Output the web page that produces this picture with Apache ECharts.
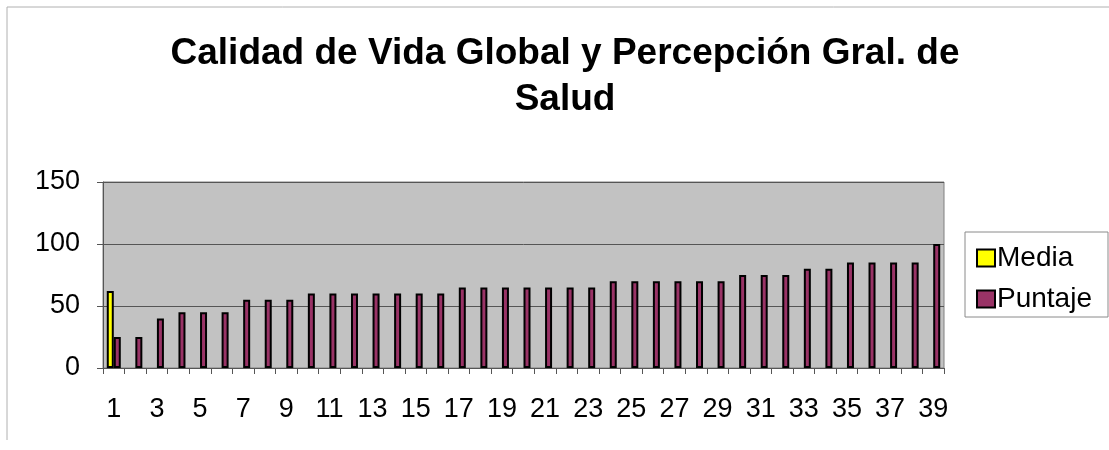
<!DOCTYPE html>
<html>
<head>
<meta charset="utf-8">
<script src="https://cdn.jsdelivr.net/npm/echarts@6/dist/echarts.min.js"></script>
<style>
  html, body { margin: 0; padding: 0; background: #fff; }
  #chart { width: 1109px; height: 450px; }
</style>
</head>
<body>
<div id="chart"></div>
<script>
const categories = []
for (let i = 1; i <= 39; i++) categories.push(String(i))

const media = [62, null, null, null, null, null, null, null, null, null,
  null, null, null, null, null, null, null, null, null, null,
  null, null, null, null, null, null, null, null, null, null,
  null, null, null, null, null, null, null, null, null]

const puntaje = [25, 25, 40, 45, 45, 45, 55, 55, 55, 60,
  60, 60, 60, 60, 60, 60, 65, 65, 65, 65,
  65, 65, 65, 70, 70, 70, 70, 70, 70, 75,
  75, 75, 80, 80, 85, 85, 85, 85, 100]

const yTicks = [0, 50, 100, 150]

const chart = echarts.init(document.getElementById('chart'))
const font = '"Liberation Sans", Arial, sans-serif'

const option = {
  animation: false,
  backgroundColor: '#ffffff',
  title: {
    text: 'Calidad de Vida Global y Percepción Gral. de\nSalud',
    left: 560,
    textAlign: 'center',
    top: 26,
    textStyle: {
      fontFamily: font,
      fontSize: 37,
      fontWeight: 'bold',
      color: '#000',
      lineHeight: 46
    }
  },
  graphic: [
    {
      type: 'polyline',
      shape: { points: [[7, 440], [7, 7], [1109, 7]] },
      style: { stroke: '#b0b0b0', lineWidth: 1, fill: null },
      silent: true
    },
    {
      type: 'rect',
      shape: { x: 965, y: 232, width: 143, height: 85 },
      style: { stroke: '#8a8a8a', lineWidth: 1, fill: '#fff' },
      z: -1,
      silent: true
    }
  ],
  legend: {
    orient: 'vertical',
    left: 971,
    top: 239,
    itemWidth: 18,
    itemHeight: 17,
    itemGap: 13,
    icon: 'rect',
    textStyle: { fontFamily: font, fontSize: 28, color: '#000', padding: [0, 0, 0, -3] },
    data: ['Media', 'Puntaje']
  },
  grid: {
    left: 103,
    top: 182,
    width: 841,
    height: 186,
    show: true,
    backgroundColor: '#c2c2c2',
    borderColor: '#808080',
    borderWidth: 1
  },
  xAxis: {
    type: 'category',
    data: categories,
    axisLine: { lineStyle: { color: '#555', width: 1 } },
    axisTick: { show: true, alignWithLabel: false, interval: 0, length: 6, lineStyle: { color: '#555' } },
    axisLabel: {
      interval: 1,
      margin: 28,
      fontFamily: font,
      fontSize: 27,
      color: '#000'
    }
  },
  yAxis: {
    type: 'value',
    min: yTicks[0],
    max: yTicks[yTicks.length - 1],
    interval: 50,
    axisLine: { show: true, lineStyle: { color: '#555' } },
    axisTick: { show: true, length: 6, lineStyle: { color: '#555' } },
    splitLine: { lineStyle: { color: '#555', width: 1 } },
    axisLabel: {
      margin: 23,
      fontFamily: font,
      fontSize: 27,
      color: '#000'
    }
  },
  series: [
    {
      name: 'Media',
      type: 'bar',
      data: media,
      barWidth: 7,
      barGap: '0%',
      itemStyle: { color: '#ffff00', borderColor: '#000', borderWidth: 2 }
    },
    {
      name: 'Puntaje',
      type: 'bar',
      data: puntaje,
      barWidth: 7,
      barGap: '0%',
      itemStyle: { color: '#993366', borderColor: '#000', borderWidth: 2 }
    }
  ]
}

option && chart.setOption(option)
</script>
</body>
</html>
